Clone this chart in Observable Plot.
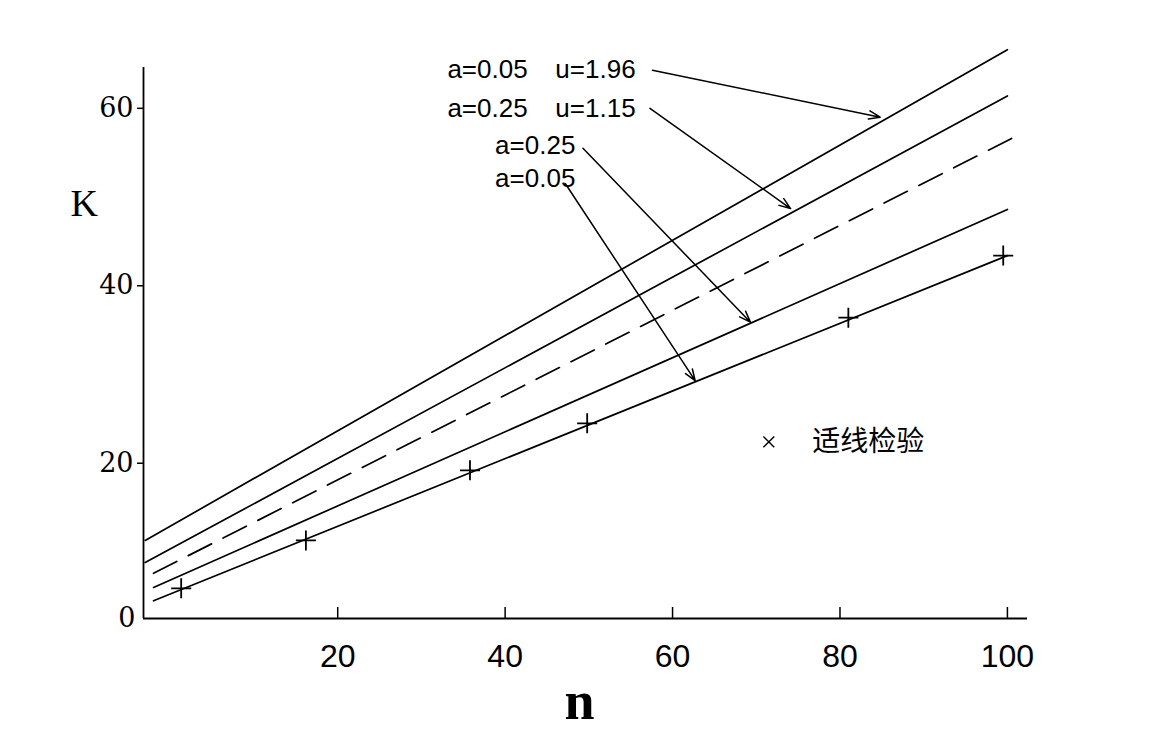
<!DOCTYPE html>
<html>
<head>
<meta charset="utf-8">
<script src="https://cdn.jsdelivr.net/npm/d3@7"></script>
<script src="https://cdn.jsdelivr.net/npm/@observablehq/plot@0.6"></script>
<style>
  html, body { margin: 0; padding: 0; background: #fff; overflow: hidden; }
  svg { display: block; }
</style>
</head>
<body>
<div id="chart"></div>
<script>
// ---- data ----
const seriesNames = ["a=0.05 u=1.96", "a=0.25 u=1.15", "mean", "a=0.25", "a=0.05"];
const startN = [-3, -3, -2, -2, -2];
const startK = [11.3, 8.8, 7.6, 6.0, 4.5];
const endN = [100, 100, 100.5, 100, 100];
const endK = [66.6, 61.4, 56.6, 48.6, 43.4];
const isDashed = [false, false, true, false, false];

// 适线检验 points
const testN = [1.3, 16.2, 35.8, 49.8, 81.0, 99.5];
const testK = [5.9, 11.3, 19.2, 24.5, 36.4, 43.4];

const xTicks = [20, 40, 60, 80, 100];
const yTicks = [20, 40, 60];
const xDomain = [-3.2, 102.4];
const yDomain = [2.5, 64.6];

// annotation labels
const labelText = ["a=0.05", "u=1.96", "a=0.25", "u=1.15", "a=0.25", "a=0.05"];
const labelN = [33.1, 46.0, 33.1, 46.0, 38.8, 38.8];
const labelK = [64.3, 64.3, 60.0, 60.0, 55.8, 52.1];

// annotation arrows
const arrowN1 = [57.6, 57.3, 49.3, 47.2];
const arrowK1 = [64.3, 60.0, 55.5, 51.5];
const arrowN2 = [84.8, 74.1, 69.3, 62.7];
const arrowK2 = [59.0, 48.7, 35.9, 29.3];

// legend
const legendLabel = "适线检验";
const legendN = [71.5];
const legendTextN = [76.7];
const legendK = [22.4];

// ---- build tables ----
const lineRows = seriesNames.flatMap((s, i) => [
  {series: s, n: startN[i], K: startK[i], dashed: isDashed[i]},
  {series: s, n: endN[i], K: endK[i], dashed: isDashed[i]}
]);
const tests = testN.map((n, i) => ({n, K: testK[i]}));
const labels = labelText.map((t, i) => ({t, n: labelN[i], K: labelK[i]}));
const arrows = arrowN1.map((n, i) => ({n1: n, k1: arrowK1[i], n2: arrowN2[i], k2: arrowK2[i]}));

const W = 1150, H = 737, mL = 143, mR = 123, mT = 67, mB = 119;
const frameH = H - mT - mB;

const sans = "'Liberation Sans', Arial, sans-serif";
const serif = "'DejaVu Serif', serif";

const chart = Plot.plot({
  width: W, height: H,
  marginLeft: mL, marginRight: mR, marginTop: mT, marginBottom: mB,
  x: {domain: xDomain},
  y: {domain: yDomain},
  style: {background: "white", color: "black", overflow: "visible"},
  marks: [
    Plot.ruleX([xDomain[0]], {stroke: "black", strokeWidth: 1.8}),
    Plot.ruleY([yDomain[0]], {stroke: "black", strokeWidth: 1.8}),
    Plot.ruleX(xTicks, {insetTop: frameH - 11, stroke: "black", strokeWidth: 1.5}),
    Plot.axisX({ticks: xTicks, tickSize: 0, tickPadding: 26, label: null,
      fontSize: 32, fontFamily: "'Liberation Sans Narrow', 'Liberation Sans', sans-serif"}),
    Plot.axisY({ticks: yTicks, tickSize: 6, tickPadding: 4, label: null,
      fontSize: 27, fontFamily: serif, strokeWidth: 1.5}),
    Plot.text(["0"], {frameAnchor: "bottom-left", dx: -8, text: d => d, textAnchor: "end",
      lineAnchor: "middle", fontSize: 27, fontFamily: serif}),
    Plot.text(["K"], {frameAnchor: "top-left", dx: -73, dy: 203 - mT, text: d => d,
      lineAnchor: "middle", fontSize: 38, fontFamily: "'Liberation Serif', serif"}),
    Plot.text(["n"], {frameAnchor: "bottom", dx: -6, dy: 83, text: d => d,
      lineAnchor: "middle", fontSize: 54, fontWeight: "bold", fontFamily: "'Liberation Serif', serif"}),
    Plot.line(lineRows.filter(d => !d.dashed), {x: "n", y: "K", z: "series", stroke: "black", strokeWidth: 1.7}),
    Plot.line(lineRows.filter(d => d.dashed), {x: "n", y: "K", z: "series", stroke: "black", strokeWidth: 1.7,
      strokeDasharray: "26,13"}),
    Plot.dot(tests, {x: "n", y: "K", symbol: "plus", r: 6.5, stroke: "black", strokeWidth: 1.8}),
    Plot.arrow(arrows, {x1: "n1", y1: "k1", x2: "n2", y2: "k2", stroke: "black", strokeWidth: 1.5,
      headLength: 12, headAngle: 40}),
    Plot.text(labels, {x: "n", y: "K", text: "t", textAnchor: "start", lineAnchor: "middle",
      fontSize: 26, fontFamily: sans}),
    Plot.dot(legendN, {x: d => d, y: () => legendK[0], symbol: "times", r: 5, stroke: "black", strokeWidth: 1.4}),
    Plot.text(legendTextN, {x: d => d, y: () => legendK[0], text: () => legendLabel, textAnchor: "start",
      lineAnchor: "middle", fontSize: 28, fontFamily: "'Noto Sans CJK SC', sans-serif"})
  ]
});
document.getElementById("chart").appendChild(chart);
</script>
</body>
</html>
